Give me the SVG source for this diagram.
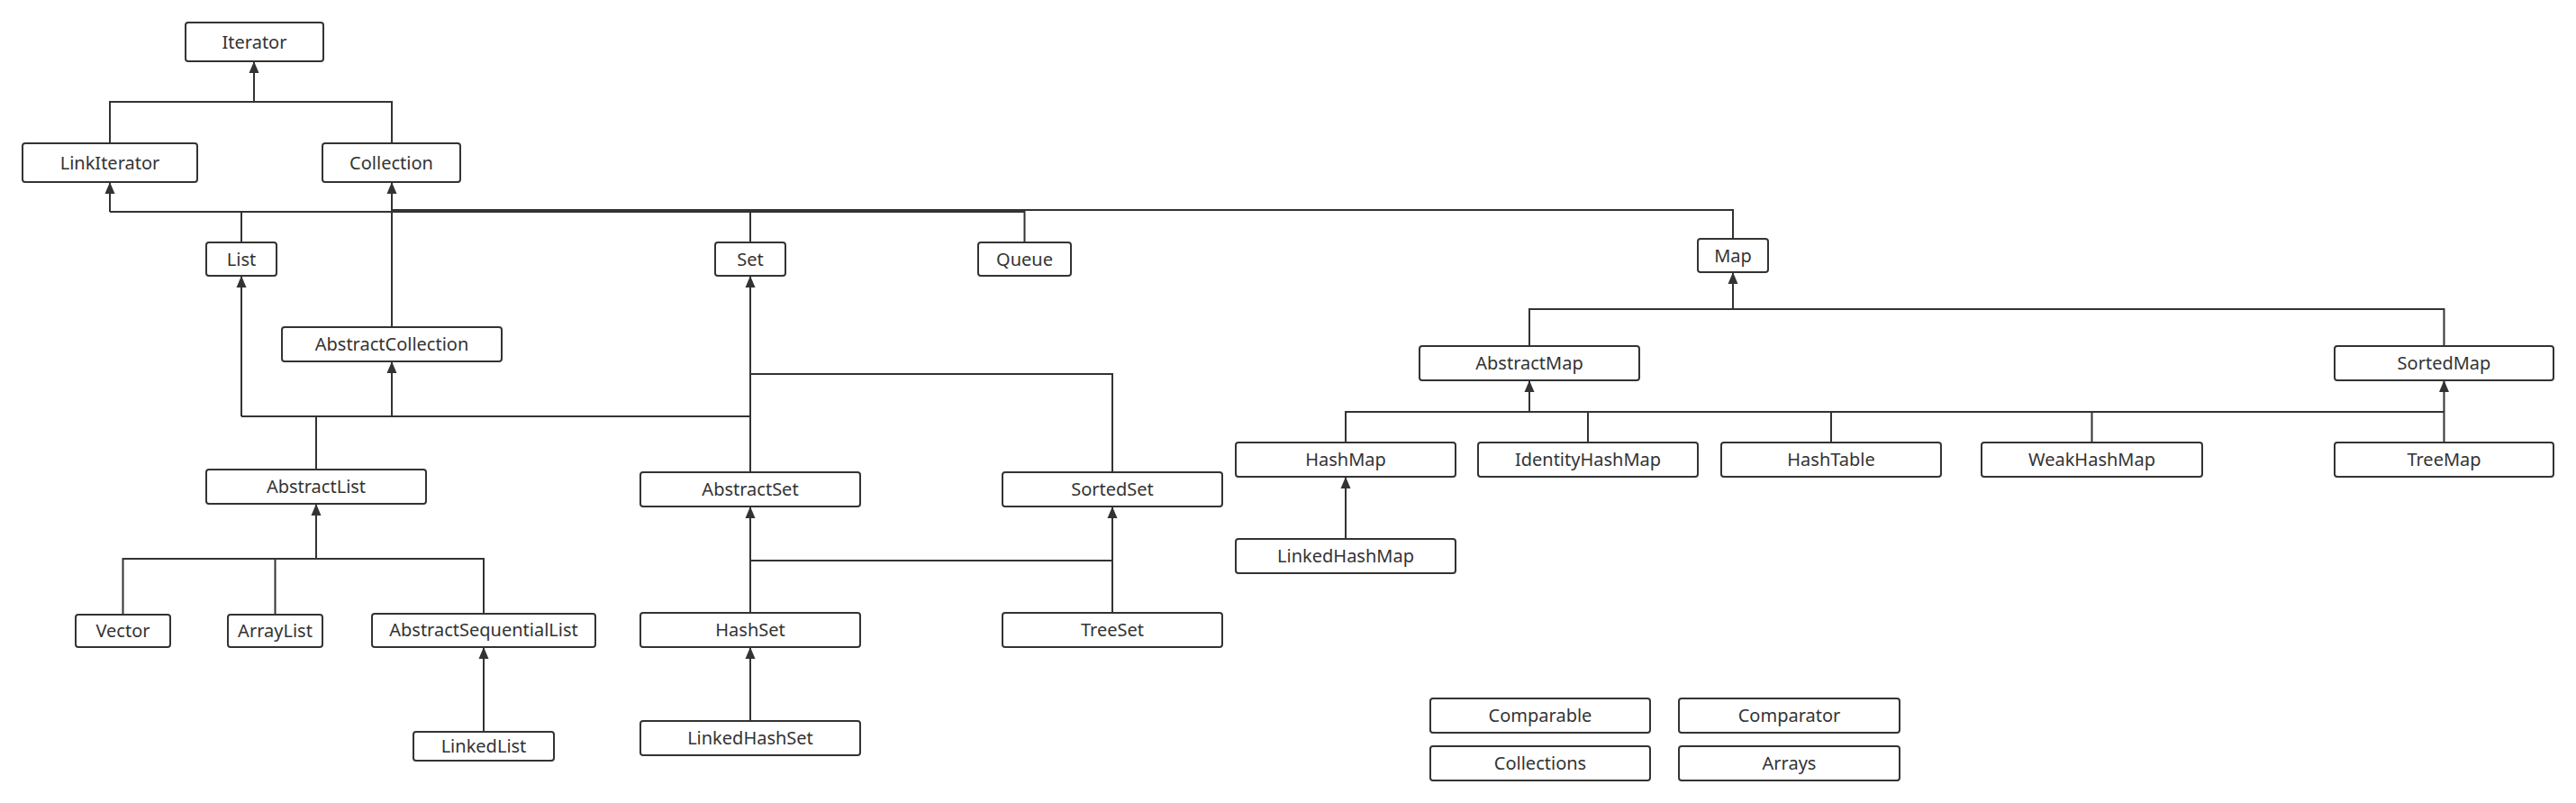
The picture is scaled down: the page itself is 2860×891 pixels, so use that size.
<svg xmlns="http://www.w3.org/2000/svg" width="2860" height="891" viewBox="0 0 2860 891">
<style>
.n rect{fill:#fff;stroke:#333;stroke-width:2}
.n text{font-family:"Noto Sans","Open Sans","Liberation Sans",sans-serif;font-size:20px;fill:#333;text-anchor:middle}
#connectors path{fill:none;stroke:#333;stroke-width:2}
.a{marker-end:url(#arr)}
</style>
<defs>
<marker id="arr" markerUnits="userSpaceOnUse" markerWidth="14" markerHeight="12" viewBox="0 0 14 12" refX="13" refY="6" orient="auto">
<path d="M0,0.5 L13,6 L0,11.5 Z" fill="#333"/>
</marker>
</defs>
<rect width="2860" height="891" fill="#fff"/>
<g id="connectors">
<path d="M122,159 V113 H435 V159"/>
<path class="a" d="M282,113 V68"/>
<path class="a" d="M122,235 V202"/>
<path d="M122,235 H1137.5 V269 M268,235 V269 M833,235 V269"/>
<path class="a" d="M435,363 V202"/>
<path d="M435,233 H1924 V265"/>
<path class="a" d="M268,462 V306"/>
<path d="M268,462 H833 M351,521 V462"/>
<path class="a" d="M435,462 V401"/>
<path class="a" d="M833,524 V306"/>
<path d="M833,415 H1235 V524"/>
<path d="M136.5,682 V620 H537 V681 M305.5,620 V682"/>
<path class="a" d="M351,620 V559"/>
<path class="a" d="M537,812 V718"/>
<path class="a" d="M833,680 V562"/>
<path class="a" d="M1235,680 V562"/>
<path d="M833,622 H1235"/>
<path class="a" d="M833,800 V718"/>
<path d="M1698,384 V343 H2713.5 V384"/>
<path class="a" d="M1924,343 V302"/>
<path d="M1494,491 V457 H2713.5 M1763,457 V491 M2033,457 V491 M2322.5,457 V491"/>
<path class="a" d="M1698,457 V422"/>
<path class="a" d="M2713.5,491 V422"/>
<path class="a" d="M1494,598 V529"/>
</g>
<g id="Iterator" class="n"><rect x="206" y="25" width="153" height="43" rx="3"/><text x="282.5" y="54">Iterator</text></g>
<g id="LinkIterator" class="n"><rect x="25" y="159" width="194" height="43" rx="3"/><text x="122" y="188">LinkIterator</text></g>
<g id="Collection" class="n"><rect x="358" y="159" width="153" height="43" rx="3"/><text x="434.5" y="188">Collection</text></g>
<g id="List" class="n"><rect x="229" y="269" width="78" height="37" rx="3"/><text x="268" y="295">List</text></g>
<g id="Set" class="n"><rect x="794" y="269" width="78" height="37" rx="3"/><text x="833" y="295">Set</text></g>
<g id="Queue" class="n"><rect x="1086" y="269" width="103" height="37" rx="3"/><text x="1137.5" y="295">Queue</text></g>
<g id="Map" class="n"><rect x="1885" y="265" width="78" height="37" rx="3"/><text x="1924" y="291">Map</text></g>
<g id="AbstractCollection" class="n"><rect x="313" y="363" width="244" height="38" rx="3"/><text x="435" y="389">AbstractCollection</text></g>
<g id="AbstractList" class="n"><rect x="229" y="521" width="244" height="38" rx="3"/><text x="351" y="547">AbstractList</text></g>
<g id="AbstractSet" class="n"><rect x="711" y="524" width="244" height="38" rx="3"/><text x="833" y="550">AbstractSet</text></g>
<g id="SortedSet" class="n"><rect x="1113" y="524" width="244" height="38" rx="3"/><text x="1235" y="550">SortedSet</text></g>
<g id="AbstractMap" class="n"><rect x="1576" y="384" width="244" height="38" rx="3"/><text x="1698" y="410">AbstractMap</text></g>
<g id="SortedMap" class="n"><rect x="2592" y="384" width="243" height="38" rx="3"/><text x="2713.5" y="410">SortedMap</text></g>
<g id="Vector" class="n"><rect x="84" y="682" width="105" height="36" rx="3"/><text x="136.5" y="707">Vector</text></g>
<g id="ArrayList" class="n"><rect x="253" y="682" width="105" height="36" rx="3"/><text x="305.5" y="707">ArrayList</text></g>
<g id="AbstractSequentialList" class="n"><rect x="413" y="681" width="248" height="37" rx="3"/><text x="537" y="706">AbstractSequentialList</text></g>
<g id="LinkedList" class="n"><rect x="459" y="812" width="156" height="32" rx="3"/><text x="537" y="835">LinkedList</text></g>
<g id="HashSet" class="n"><rect x="711" y="680" width="244" height="38" rx="3"/><text x="833" y="706">HashSet</text></g>
<g id="LinkedHashSet" class="n"><rect x="711" y="800" width="244" height="38" rx="3"/><text x="833" y="826">LinkedHashSet</text></g>
<g id="TreeSet" class="n"><rect x="1113" y="680" width="244" height="38" rx="3"/><text x="1235" y="706">TreeSet</text></g>
<g id="HashMap" class="n"><rect x="1372" y="491" width="244" height="38" rx="3"/><text x="1494" y="517">HashMap</text></g>
<g id="IdentityHashMap" class="n"><rect x="1641" y="491" width="244" height="38" rx="3"/><text x="1763" y="517">IdentityHashMap</text></g>
<g id="HashTable" class="n"><rect x="1911" y="491" width="244" height="38" rx="3"/><text x="2033" y="517">HashTable</text></g>
<g id="WeakHashMap" class="n"><rect x="2200" y="491" width="245" height="38" rx="3"/><text x="2322.5" y="517">WeakHashMap</text></g>
<g id="TreeMap" class="n"><rect x="2592" y="491" width="243" height="38" rx="3"/><text x="2713.5" y="517">TreeMap</text></g>
<g id="LinkedHashMap" class="n"><rect x="1372" y="598" width="244" height="38" rx="3"/><text x="1494" y="624">LinkedHashMap</text></g>
<g id="Comparable" class="n"><rect x="1588" y="775" width="244" height="38" rx="3"/><text x="1710" y="801">Comparable</text></g>
<g id="Comparator" class="n"><rect x="1864" y="775" width="245" height="38" rx="3"/><text x="1986.5" y="801">Comparator</text></g>
<g id="Collections" class="n"><rect x="1588" y="828" width="244" height="38" rx="3"/><text x="1710" y="854">Collections</text></g>
<g id="Arrays" class="n"><rect x="1864" y="828" width="245" height="38" rx="3"/><text x="1986.5" y="854">Arrays</text></g>
</svg>
